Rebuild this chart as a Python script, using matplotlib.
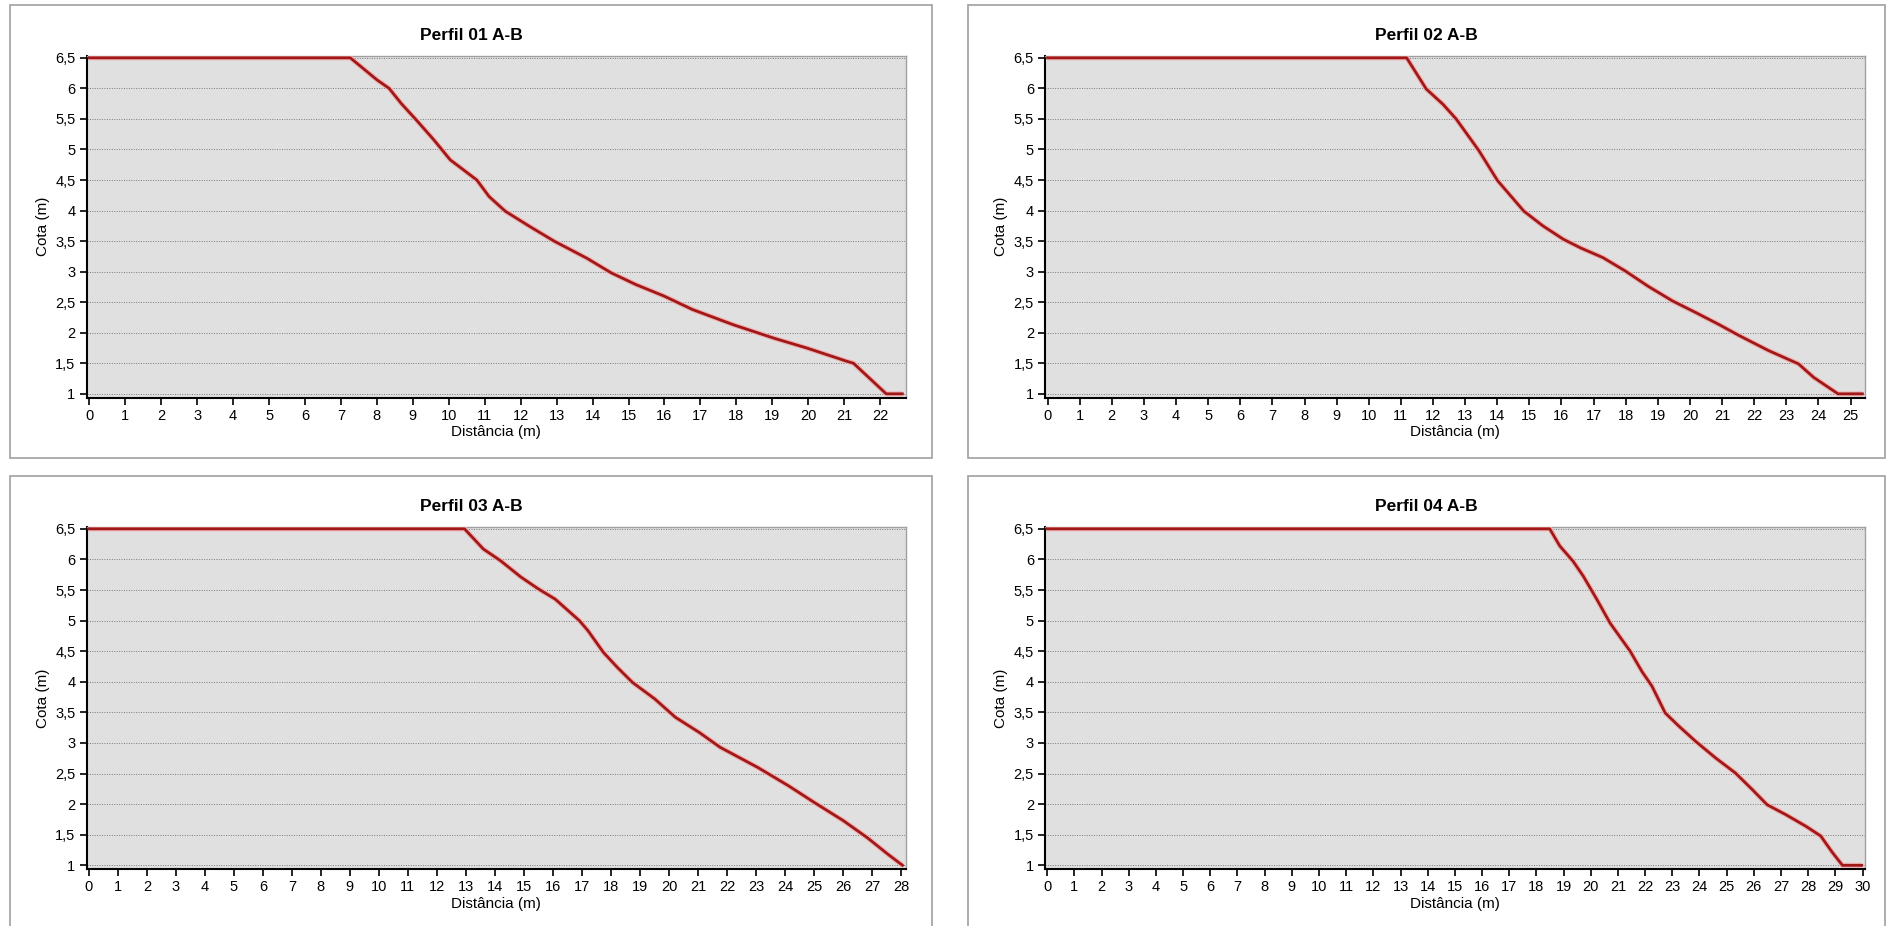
import matplotlib
matplotlib.use('Agg')
import matplotlib.pyplot as plt
from matplotlib.patches import Rectangle
from matplotlib.ticker import FuncFormatter, MultipleLocator

plt.rcParams['font.family'] = ['Liberation Sans', 'DejaVu Sans']

#=====================
#  Data (read from the profiles)
#=====================
titles = ['Perfil 01 A-B', 'Perfil 02 A-B', 'Perfil 03 A-B', 'Perfil 04 A-B']

dist_01 = [0, 7.26, 8.0, 8.34, 8.68, 9.07, 9.58, 10.04, 10.78, 11.12, 11.57, 12.25,
           12.93, 13.84, 14.52, 15.2, 15.99, 16.78, 17.92, 19.05, 19.96, 21.09,
           21.26, 22.17, 22.62]
cota_01 = [6.5, 6.5, 6.14, 6.0, 5.75, 5.5, 5.16, 4.83, 4.5, 4.23, 3.99, 3.74,
           3.5, 3.22, 2.98, 2.79, 2.6, 2.38, 2.13, 1.91, 1.75, 1.53,
           1.5, 1.0, 1.0]

dist_02 = [0, 11.18, 11.79, 12.31, 12.72, 13.43, 14.01, 14.42, 14.83, 15.42, 16.06,
           16.59, 17.29, 17.99, 18.7, 19.46, 20.22, 20.92, 21.51, 22.44, 23.38,
           23.85, 24.61, 25.37]
cota_02 = [6.5, 6.5, 5.99, 5.74, 5.5, 4.98, 4.49, 4.24, 3.99, 3.75, 3.53,
           3.39, 3.23, 3.01, 2.76, 2.52, 2.32, 2.13, 1.96, 1.71, 1.49,
           1.27, 1.0, 1.0]

dist_03 = [0, 12.95, 13.6, 14.19, 14.9, 15.49, 16.08, 16.91, 17.2, 17.74, 18.21,
           18.74, 19.51, 20.22, 21.05, 21.76, 23.06, 24.12, 25.0, 26.01, 26.84,
           27.55, 28.05]
cota_03 = [6.5, 6.5, 6.17, 5.98, 5.71, 5.52, 5.35, 5.0, 4.84, 4.48, 4.24,
           3.99, 3.72, 3.42, 3.17, 2.93, 2.6, 2.3, 2.03, 1.73, 1.45,
           1.18, 1.0]

dist_04 = [0, 18.49, 18.86, 19.35, 19.72, 20.22, 20.71, 21.45, 21.88, 22.25, 22.74,
           23.23, 23.85, 24.58, 25.32, 25.94, 26.49, 27.17, 27.91, 28.46, 28.89,
           29.26, 29.97]
cota_04 = [6.5, 6.5, 6.22, 5.97, 5.73, 5.35, 4.96, 4.5, 4.17, 3.93, 3.49,
           3.28, 3.03, 2.76, 2.51, 2.24, 1.99, 1.83, 1.64, 1.48, 1.21,
           1.0, 1.0]

x_max = [22.72, 25.45, 28.17, 30.09]
y_ticks = [1, 1.5, 2, 2.5, 3, 3.5, 4, 4.5, 5, 5.5, 6, 6.5]

profiles = [(dist_01, cota_01), (dist_02, cota_02), (dist_03, cota_03), (dist_04, cota_04)]

#=====================
#  Layout (pixels of the 1889x926 picture)
#=====================
W, H = 1889, 926
fig = plt.figure(figsize=(W / 100, H / 100), dpi=100)
fig.patch.set_facecolor('white')

# axes boxes: left, right, top, bottom in px
ax_cols = [(86.5, 906), (1045, 1865)]
ax_rows = [(56, 397.5), (527, 869)]
# outer frames
fr_cols = [(10, 932), (968, 1885)]
fr_rows = [(5, 458), (476, 935)]


def comma(v, pos):
    return ('%g' % v).replace('.', ',')


for i, (xs, ys) in enumerate(profiles):
    r, c = divmod(i, 2)
    l, rr = ax_cols[c]
    t, b = ax_rows[r]
    ax = fig.add_axes([l / W, 1 - b / H, (rr - l) / W, (b - t) / H])
    ax.set_facecolor('#e0e0e0')

    # frame around each panel
    fl, fr = fr_cols[c]
    ft, fb = fr_rows[r]
    fig.patches.append(Rectangle((fl / W, 1 - fb / H), (fr - fl) / W, (fb - ft) / H,
                                 transform=fig.transFigure, fill=False,
                                 edgecolor='#a0a0a0', linewidth=1.2))
    fig.text((fl + fr) / 2 / W, 1 - (ft + 31) / H, titles[i], ha='center', va='center',
             fontsize=12.5, fontweight='bold')

    # profile line with a faint halo
    ax.plot(xs, ys, color='#f0b0b0', linewidth=3.6, solid_capstyle='butt', zorder=3)
    ax.plot(xs, ys, color='#a01818', linewidth=2.0, zorder=4)

    ax.set_xlim(-0.08, x_max[i])
    ax.set_ylim(0.94, 6.53)
    ax.set_yticks(y_ticks)
    ax.xaxis.set_major_locator(MultipleLocator(1))
    ax.yaxis.set_major_formatter(FuncFormatter(comma))
    ax.grid(axis='y', color='#7a7a7a', linestyle=(0, (1, 1.5)), linewidth=0.7)
    ax.set_axisbelow(True)

    for s in ['top', 'right']:
        ax.spines[s].set_color('#a0a0a0')
        ax.spines[s].set_linewidth(1.0)
    for s in ['left', 'bottom']:
        ax.spines[s].set_color('black')
        ax.spines[s].set_linewidth(1.5)
    ax.tick_params(direction='out', length=5, width=1.2, color='black',
                   labelsize=10.5, pad=3)
    ax.set_xlabel('Distância (m)', fontsize=11, labelpad=2)
    ax.set_ylabel('Cota (m)', fontsize=11, labelpad=4)

fig.savefig('out.png', dpi=100)
